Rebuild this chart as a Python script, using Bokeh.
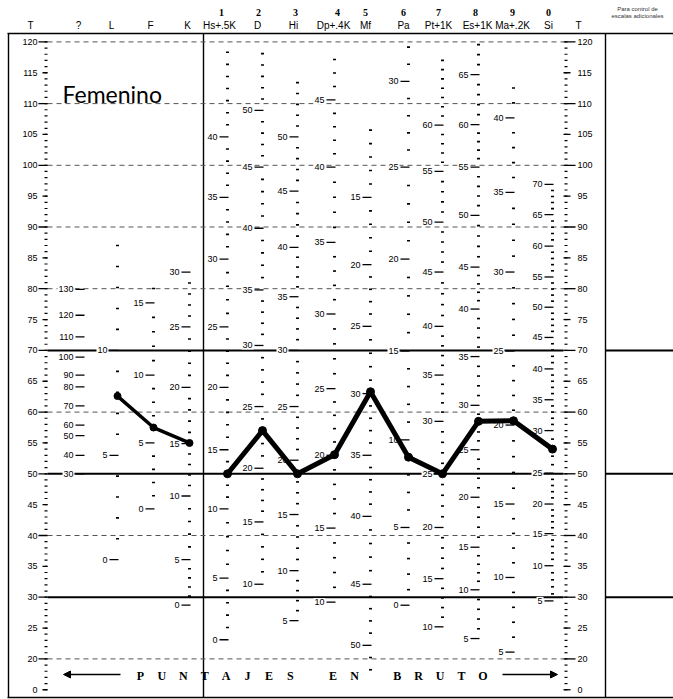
import numpy as np
from bokeh.plotting import figure
from bokeh.models import Range1d, Arrow, NormalHead
from bokeh.embed import file_html
from bokeh.resources import INLINE
from bokeh.core.properties import value

# ---------------- data ----------------
validity_scales = ["L", "F", "K"]
validity_T = [62.6, 57.5, 55.0]
clinical_scales = ["Hs", "D", "Hi", "Dp", "Mf", "Pa", "Pt", "Es", "Ma", "Si"]
clinical_T = [50.0, 57.0, 50.0, 53.1, 63.3, 52.7, 50.0, 58.5, 58.6, 54.0]
scale_numbers = ["1", "2", "3", "4", "5", "6", "7", "8", "9", "0"]
header_names = ["T", "?", "L", "F", "K", "Hs+.5K", "D", "Hi", "Dp+.4K", "Mf",
                "Pa", "Pt+1K", "Es+1K", "Ma+.2K", "Si", "T"]
t_tick_values = [120, 115, 110, 105, 100, 95, 90, 85, 80, 75, 70, 65, 60, 55,
                 50, 45, 40, 35, 30, 25, 20, 15]
t_tick_labels = ["120", "115", "110", "105", "100", "95", "90", "85", "80", "75",
                 "70", "65", "60", "55", "50", "45", "40", "35", "30", "25", "20", "0"]
solid_T_lines = [70, 50, 30]
dashed_T_lines = [120, 110, 100, 90, 80, 60, 40, 20]

# raw-score labels on each scale column and the T height where they sit
raw_q = [130, 120, 110, 100, 90, 80, 70, 60, 50, 40, 30]
t_q = [79.9, 75.7, 72.2, 68.9, 66.0, 64.1, 61.0, 57.9, 56.2, 53.0, 50.0]
raw_L = [10, 5, 0]
t_L = [70.0, 53.0, 36.1]
raw_F = [15, 10, 5, 0]
t_F = [77.7, 66.0, 55.0, 44.3]
raw_K = [30, 25, 20, 15, 10, 5, 0]
t_K = [82.7, 73.8, 64.0, 54.9, 46.4, 36.1, 28.7]
raw_Hs = [40, 35, 30, 25, 20, 15, 10, 5, 0]
t_Hs = [104.6, 94.8, 84.8, 73.8, 64.0, 53.9, 44.3, 33.1, 23.1]
raw_D = [50, 45, 40, 35, 30, 25, 20, 15, 10]
t_D = [108.9, 99.7, 89.8, 79.8, 70.8, 60.9, 50.9, 42.2, 32.1]
raw_Hi = [50, 45, 40, 35, 30, 25, 20, 15, 10, 5]
t_Hi = [104.6, 95.8, 86.7, 78.7, 70.0, 60.9, 52.2, 43.4, 34.3, 26.2]
raw_Dp = [45, 40, 35, 30, 25, 20, 15, 10]
t_Dp = [110.6, 99.7, 87.5, 75.9, 63.8, 53.0, 41.2, 29.2]
raw_Mf = [15, 20, 25, 30, 35, 40, 45, 50]
t_Mf = [94.8, 83.9, 73.9, 63.0, 53.0, 43.1, 32.1, 22.2]
raw_Pa = [30, 25, 20, 15, 10, 5, 0]
t_Pa = [113.6, 99.7, 84.8, 69.9, 55.5, 41.3, 28.7]
raw_Pt = [60, 55, 50, 45, 40, 35, 30, 25, 20, 15, 10]
t_Pt = [106.5, 99.0, 90.8, 82.7, 73.9, 66.0, 58.5, 50.0, 41.3, 33.0, 25.2]
raw_Es = [65, 60, 55, 50, 45, 40, 35, 30, 25, 20, 15, 10, 5]
t_Es = [114.7, 106.6, 99.7, 91.9, 83.5, 76.7, 69.0, 61.1, 53.9, 46.2, 38.1, 31.2, 23.3]
raw_Ma = [40, 35, 30, 25, 20, 15, 10, 5]
t_Ma = [107.7, 95.6, 82.7, 69.9, 57.9, 45.1, 33.2, 21.1]
raw_Si = [70, 65, 60, 55, 50, 45, 40, 35, 30, 25, 20, 15, 10, 5]
t_Si = [96.9, 92.0, 86.9, 81.9, 77.0, 72.1, 67.0, 62.0, 57.0, 50.1, 45.1, 40.3, 35.1, 29.4]

scale_raw = {"?": (raw_q, t_q), "L": (raw_L, t_L), "F": (raw_F, t_F), "K": (raw_K, t_K),
             "Hs": (raw_Hs, t_Hs), "D": (raw_D, t_D), "Hi": (raw_Hi, t_Hi), "Dp": (raw_Dp, t_Dp),
             "Mf": (raw_Mf, t_Mf), "Pa": (raw_Pa, t_Pa), "Pt": (raw_Pt, t_Pt), "Es": (raw_Es, t_Es),
             "Ma": (raw_Ma, t_Ma), "Si": (raw_Si, t_Si)}
bottom_caption = "PUNTAJES EN BRUTO"

# ---------------- layout ----------------
col_x = {"?": 83, "L": 117, "F": 153, "K": 189, "Hs": 227, "D": 262, "Hi": 297,
         "Dp": 334, "Mf": 370, "Pa": 408, "Pt": 442, "Es": 478, "Ma": 513, "Si": 552}
minor_range = {"L": (0, 15), "F": (0, 16), "K": (0, 30), "Hs": (0, 47), "D": (10, 55),
               "Hi": (5, 55), "Dp": (10, 48), "Mf": (10, 52), "Pa": (0, 32), "Pt": (10, 67),
               "Es": (5, 70), "Ma": (5, 42), "Si": (5, 70)}
header_x = [30, 78, 111, 150, 187, 219, 257, 293, 333, 365, 403, 438, 477, 512, 548, 578]
number_x = [221, 258, 295, 337, 365, 403, 438, 475, 512, 548]

W, H = 673, 699
PPT = 6.17                      # pixels per T unit
Y_TOP = 50 + 473.3 / PPT
Y_BOT = Y_TOP - H / PPT


def ty(page_y):
    return Y_TOP - page_y / PPT


FONT = value("Liberation Sans")
SERIF = value("Liberation Serif")

p = figure(width=W, height=H, x_range=Range1d(0, W), y_range=Range1d(Y_BOT, Y_TOP),
           output_backend="svg", toolbar_location=None, min_border=0,
           x_axis_location=None, y_axis_location=None)
p.grid.visible = False
p.outline_line_color = None
p.background_fill_color = "white"
p.border_fill_color = "white"

# frame
top_y = ty(33)
bot_y = ty(697)
p.segment(x0=[7, 7], x1=[W, W], y0=[top_y, bot_y], y1=[top_y, bot_y],
          line_color="black", line_width=1.3)
p.segment(x0=[8, 203, 605], x1=[8, 203, 605], y0=[top_y] * 3, y1=[bot_y] * 3,
          line_color="black", line_width=1.4)

# horizontal reference lines
p.segment(x0=[47] * len(dashed_T_lines), x1=[563] * len(dashed_T_lines),
          y0=dashed_T_lines, y1=dashed_T_lines, line_color="#555555",
          line_width=1, line_dash="5 4")
p.segment(x0=[47] * 3 + [605] * 3, x1=[563] * 3 + [W] * 3,
          y0=solid_T_lines * 2, y1=solid_T_lines * 2, line_color="black", line_width=2)

# T axes (left and right)
minor_t = [t for t in range(15, 121)]
p.segment(x0=[44] * len(minor_t), x1=[47] * len(minor_t), y0=minor_t, y1=minor_t,
          line_color="black", line_width=1.2)
p.segment(x0=[564] * len(minor_t), x1=[567] * len(minor_t), y0=minor_t, y1=minor_t,
          line_color="black", line_width=1.2)
lx0 = [38 if v % 10 == 0 else 42 for v in t_tick_values]
rx1 = [575 if v % 10 == 0 else 570 for v in t_tick_values]
p.segment(x0=lx0, x1=[47] * len(lx0), y0=t_tick_values, y1=t_tick_values,
          line_color="black", line_width=1.3)
p.segment(x0=[563] * len(rx1), x1=rx1, y0=t_tick_values, y1=t_tick_values,
          line_color="black", line_width=1.3)
p.text(x=[37] * len(t_tick_values), y=t_tick_values, text=t_tick_labels,
       text_align="right", text_baseline="middle", text_font=FONT,
       text_font_size="9px", text_color="black")
p.text(x=[577] * len(t_tick_values), y=t_tick_values, text=t_tick_labels,
       text_align="left", text_baseline="middle", text_font=FONT,
       text_font_size="9px", text_color="black")

# raw score scales
mx0, mx1, my = [], [], []
lbx, lby, lbt, dx0, dx1, dy = [], [], [], [], [], []
for name, (raws, ts) in scale_raw.items():
    cx = col_x[name]
    r = np.array(raws, float)
    t = np.array(ts, float)
    order = np.argsort(r)
    r, t = r[order], t[order]
    for rv, tv in zip(r, t):
        lbx.append(cx - 9)
        lby.append(tv)
        lbt.append(str(int(rv)))
        dx0.append(cx - 8)
        dx1.append(cx + 1)
        dy.append(tv)
    if name in minor_range:
        lo, hi = minor_range[name]
        s_lo = (t[1] - t[0]) / (r[1] - r[0])
        s_hi = (t[-1] - t[-2]) / (r[-1] - r[-2])
        for rv in range(lo, hi + 1):
            if rv in raws:
                continue
            if rv < r[0]:
                tv = t[0] + (rv - r[0]) * s_lo
            elif rv > r[-1]:
                tv = t[-1] + (rv - r[-1]) * s_hi
            else:
                tv = float(np.interp(rv, r, t))
            if 15 <= tv <= 120.5:
                mx0.append(cx - 1.5)
                mx1.append(cx + 1.5)
                my.append(tv)
p.segment(x0=mx0, x1=mx1, y0=my, y1=my, line_color="black", line_width=1.6)
p.text(x=lbx, y=lby, text=lbt, text_align="right", text_baseline="middle",
       text_font=FONT, text_font_size="9px", text_color="black",
       background_fill_color="white", padding=1)
p.segment(x0=dx0, x1=dx1, y0=dy, y1=dy, line_color="black", line_width=1.3)

# profile
vx = [col_x[s] for s in validity_scales]
cxs = [col_x[s] for s in clinical_scales]
p.line(x=vx, y=validity_T, line_color="black", line_width=3.5, line_join="round")
p.scatter(x=vx, y=validity_T, size=7, color="black")
p.line(x=cxs, y=clinical_T, line_color="black", line_width=5, line_join="round")
p.scatter(x=cxs, y=clinical_T, size=8, color="black")

# headers
p.text(x=header_x, y=[ty(25)] * len(header_x), text=header_names, text_align="center",
       text_baseline="middle", text_font=FONT, text_font_size="10px", text_color="black")
p.text(x=number_x, y=[ty(12)] * len(number_x), text=scale_numbers, text_align="center",
       text_baseline="middle", text_font=SERIF, text_font_style="bold",
       text_font_size="10px", text_color="black")
p.text(x=[637, 637], y=[ty(8), ty(15)], text=["Para control de", "escalas adicionales"],
       text_align="center", text_baseline="middle", text_font=FONT,
       text_font_size="6px", text_color="#333333")

# title
p.text(x=[62], y=[ty(93)], text=["Femenino"], text_align="left",
       text_baseline="alphabetic", text_font=value("Lato"), text_font_size="23px",
       text_color="black")

# bottom caption
chars = [c for c in bottom_caption]
cx_chars = [140 + i * 21.4 for i in range(len(chars))]
p.text(x=cx_chars, y=[ty(675)] * len(chars), text=chars, text_align="center",
       text_baseline="middle", text_font=SERIF, text_font_style="bold",
       text_font_size="12px", text_color="black")
p.add_layout(Arrow(end=NormalHead(size=7, fill_color="black", line_color="black"),
                   x_start=120, y_start=ty(674), x_end=63, y_end=ty(674),
                   line_color="black", line_width=1.5))
p.add_layout(Arrow(end=NormalHead(size=7, fill_color="black", line_color="black"),
                   x_start=502, y_start=ty(674), x_end=557, y_end=ty(674),
                   line_color="black", line_width=1.5))

open("out.html", "w").write(file_html(p, INLINE))
